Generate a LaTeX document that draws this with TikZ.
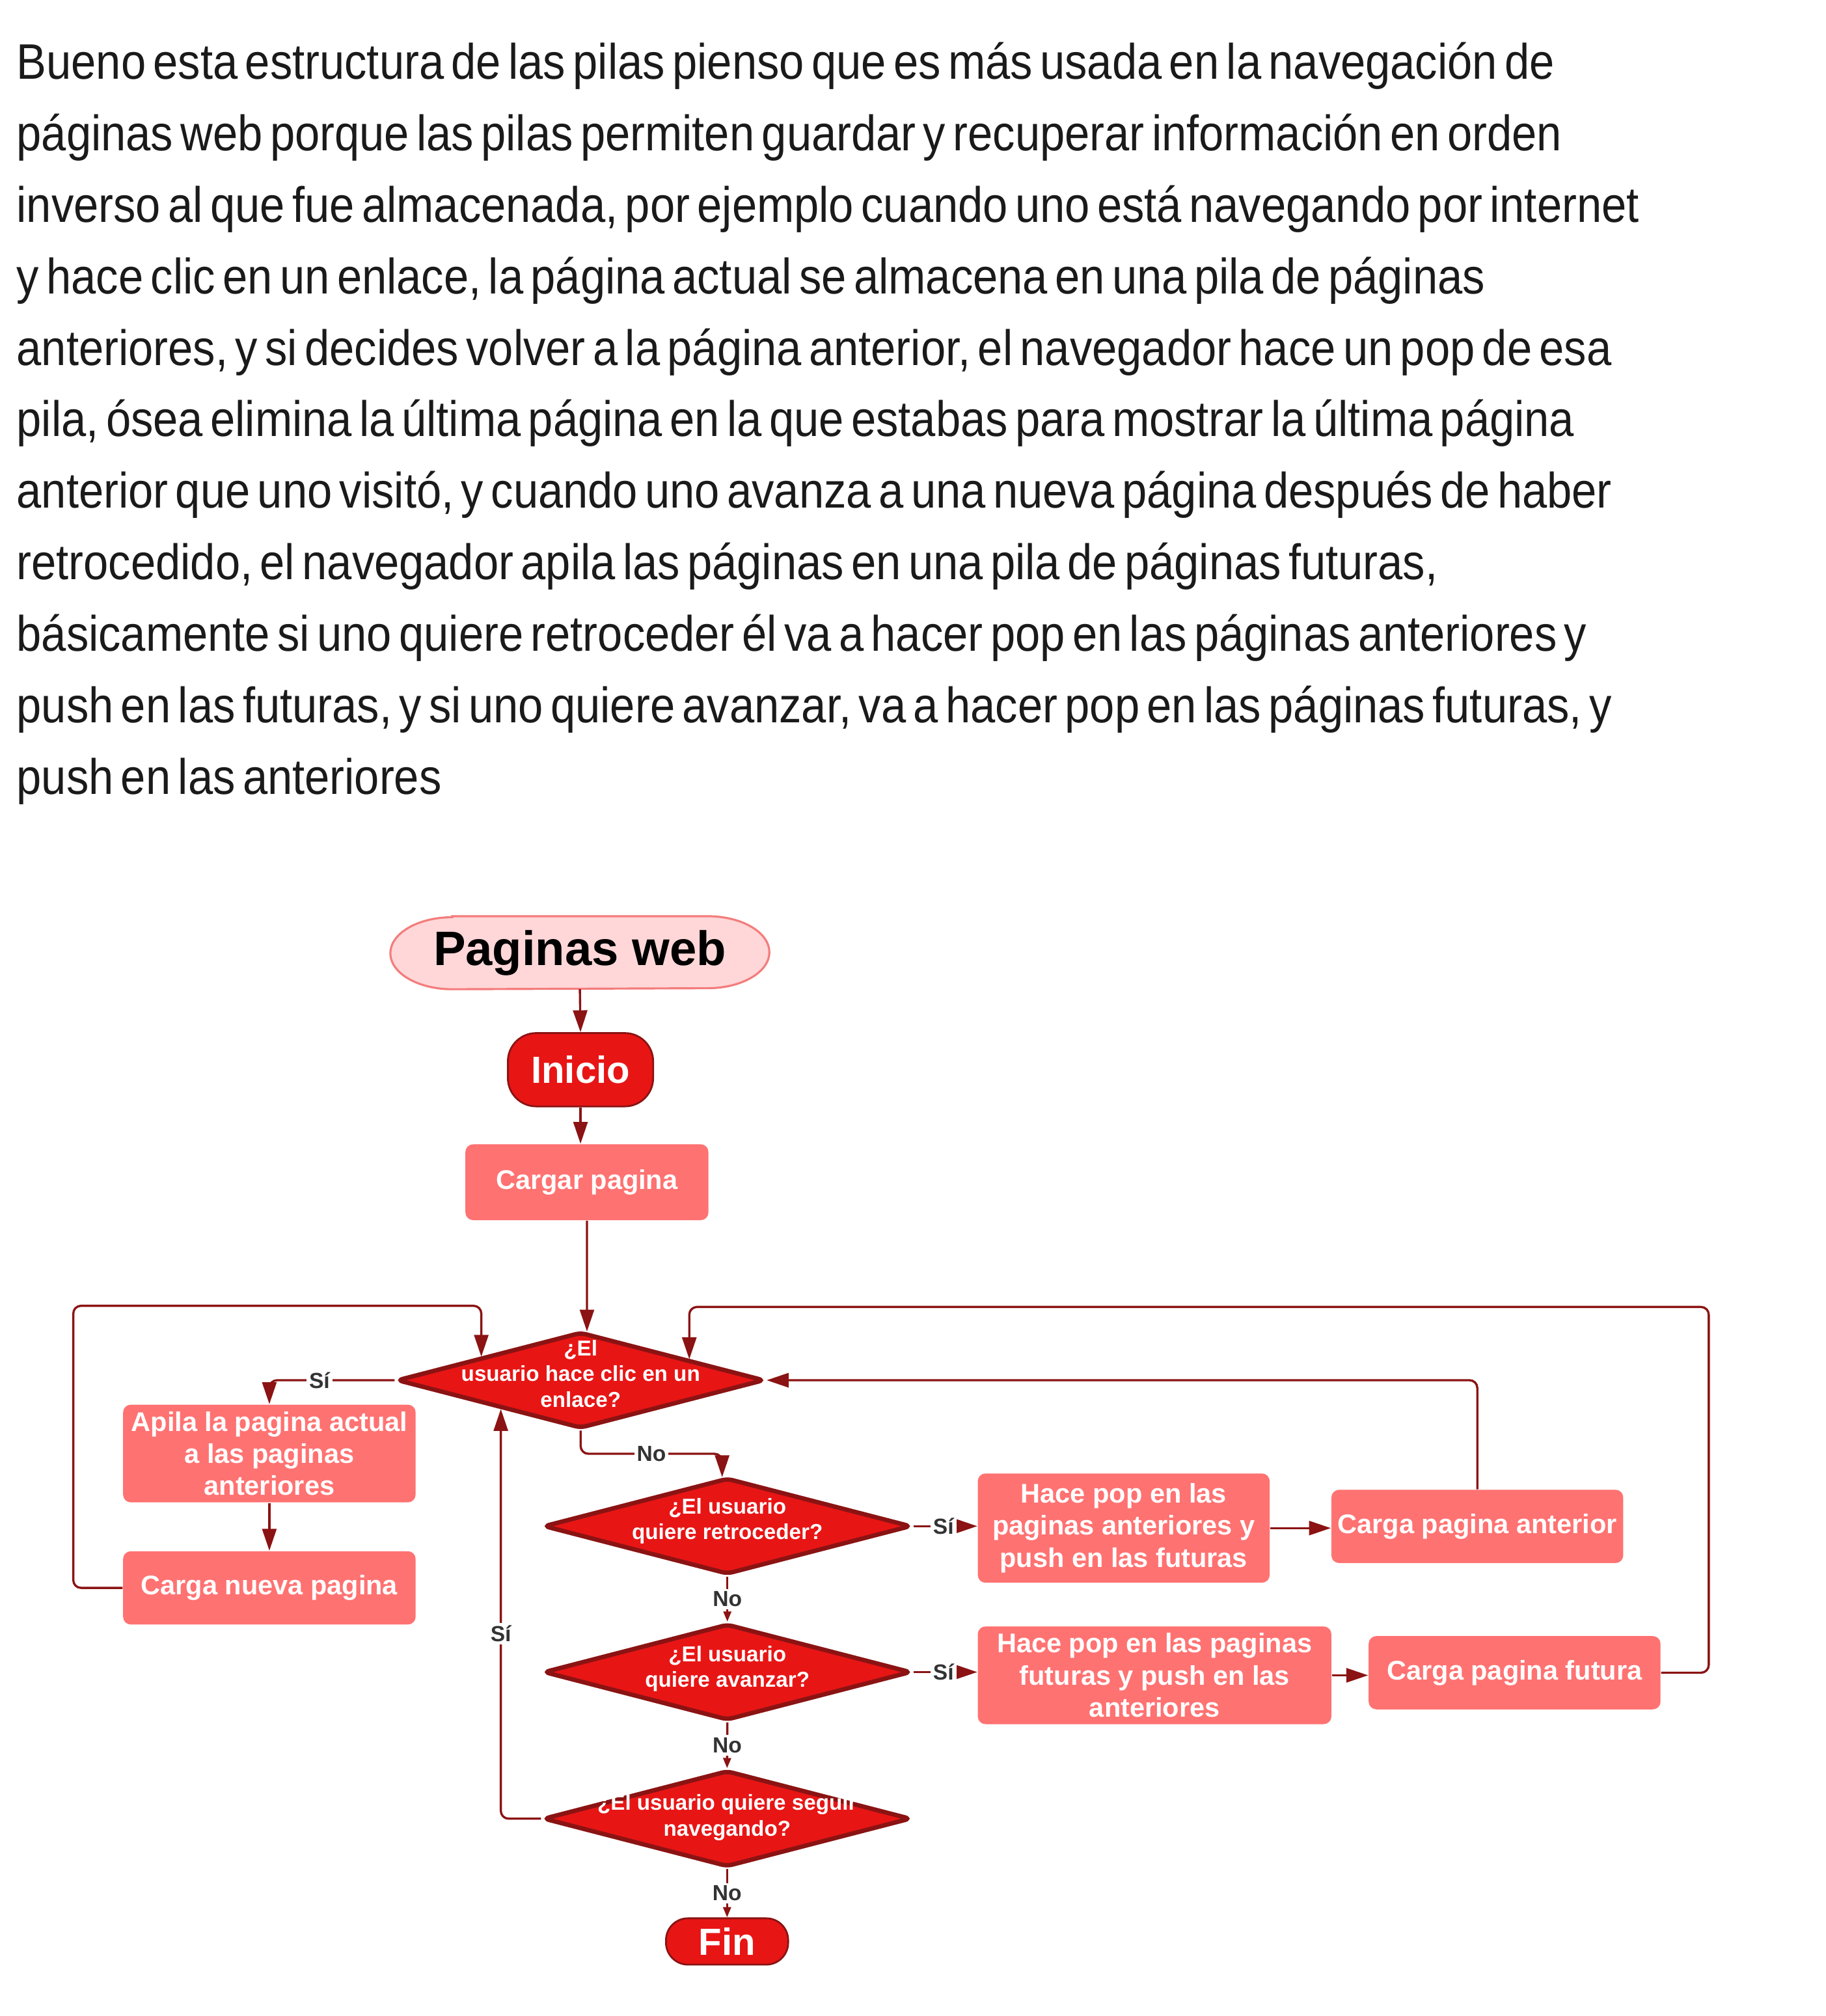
\documentclass[tikz,border=0pt]{standalone}
\usepackage{fontspec}
\setmainfont{Liberation Sans}
\newfontfamily\parafont[WordSpace=0.6]{Liberation Sans}
\usepackage{graphicx}
\usetikzlibrary{shapes.geometric,arrows.meta,calc,backgrounds}
\definecolor{edgec}{HTML}{8B1313}
\definecolor{dfill}{HTML}{E81515}
\definecolor{bfill}{HTML}{FF7272}
\definecolor{pfill}{HTML}{FFD7D8}
\definecolor{pline}{HTML}{F47C7C}
\definecolor{lblc}{HTML}{333333}
\definecolor{bodyc}{HTML}{1A1A1A}
\newsavebox\reflinebox
\newlength\reflen
\newcommand\bodysize{\parafont\fontsize{19.4pt}{24pt}\selectfont}
\newcommand\tline[1]{\scalebox{\hsc}[1]{\bodysize #1}}
\begin{document}
\sbox\reflinebox{\bodysize inverso al que fue almacenada, por ejemplo cuando uno está navegando por internet}%
\setlength\reflen{\wd\reflinebox}%
\pgfmathsetmacro\hsc{631/\reflen}%
\begin{tikzpicture}[x=0.5pt,y=-0.5pt,
  conn/.style={draw=edgec,line width=0.85pt,rounded corners=3pt,-{Triangle[length=8.5pt,width=5.5pt]}},
  sconn/.style={draw=edgec,line width=0.85pt,-{Triangle[length=4pt,width=3pt]}},
  rbox/.style={rectangle,fill=bfill,rounded corners=3pt,text=white,font=\bfseries\fontsize{10.5pt}{12.5pt}\selectfont,align=center,inner sep=0pt,minimum height=28.5pt},
  dia/.style={diamond,draw=edgec,fill=dfill,line width=1.7pt,rounded corners=2pt,inner sep=0pt,minimum width=143pt,minimum height=37.5pt},
  dtext/.style={text=white,font=\bfseries\fontsize{8.4pt}{10pt}\selectfont,align=center,inner sep=0pt},
  term/.style={rectangle,fill=dfill,draw=edgec,line width=0.7pt,text=white,font=\bfseries\fontsize{14.7pt}{16pt}\selectfont,inner sep=0pt},
  lab/.style={fill=white,text=lblc,font=\bfseries\fontsize{8.5pt}{10pt}\selectfont,inner sep=1pt,rounded corners=0pt},
  para/.style={anchor=base west,inner sep=0pt,text=bodyc}]
\useasboundingbox (0,0) rectangle (1420,1568);
% paragraph
\node[para] (t1) at (12.6,61.6) {\tline{Bueno esta estructura de las pilas pienso que es más usada en la navegación de}};
\node[para] (t2) at (12.6,117.2) {\tline{páginas web porque las pilas permiten guardar y recuperar información en orden}};
\node[para] (t3) at (12.6,172.8) {\tline{inverso al que fue almacenada, por ejemplo cuando uno está navegando por internet}};
\node[para] (t4) at (12.6,228.4) {\tline{y hace clic en un enlace, la página actual se almacena en una pila de páginas}};
\node[para] (t5) at (12.6,284.0) {\tline{anteriores, y si decides volver a la página anterior, el navegador hace un pop de esa}};
\node[para] (t6) at (12.6,339.6) {\tline{pila, ósea elimina la última página en la que estabas para mostrar la última página}};
\node[para] (t7) at (12.6,395.2) {\tline{anterior que uno visitó, y cuando uno avanza a una nueva página después de haber}};
\node[para] (t8) at (12.6,450.8) {\tline{retrocedido, el navegador apila las páginas en una pila de páginas futuras,}};
\node[para] (t9) at (12.6,506.4) {\tline{básicamente si uno quiere retroceder él va a hacer pop en las páginas anteriores y}};
\node[para] (t10) at (12.6,562.0) {\tline{push en las futuras, y si uno quiere avanzar, va a hacer pop en las páginas futuras, y}};
\node[para] (t11) at (12.6,617.6) {\tline{push en las anteriores}};
% title
\node[rectangle,inner sep=0pt,minimum width=147pt,minimum height=28pt,font=\bfseries\fontsize{18.8pt}{20pt}\selectfont,text=black] (pw) at (451,741) {Paginas web};
\begin{scope}[on background layer]
\fill[white] (0,0) rectangle (1420,1568);
\draw[fill=pfill,draw=pline,line width=0.8pt]
  ([xshift=24pt]pw.north west) -- ([xshift=-24pt]pw.north east)
  arc[start angle=90,end angle=-90,x radius=24pt,y radius=14pt]
  -- ([xshift=24pt]pw.south west)
  arc[start angle=270,end angle=90,x radius=24pt,y radius=14pt] -- cycle;
\end{scope}
% terminals and boxes
\node[term,rounded corners=11pt,minimum width=56.5pt,minimum height=28.5pt] (ini) at (451.5,832) {Inicio};
\node[rbox,minimum width=94.5pt,minimum height=29.5pt] (carg) at (456.5,919.5) {Cargar pagina};
\node[dia] (d1) at (451.6,1073.5) {};
\node[dtext] (d1t) at (451.6,1068.5) {¿El\\usuario hace clic en un\\enlace?};
\node[rbox,minimum width=113.75pt,minimum height=38pt] (apila) at (209.5,1130.5) {Apila la pagina actual\\a las paginas\\anteriores};
\node[rbox,minimum width=113.75pt] (nueva) at (209.5,1235) {Carga nueva pagina};
\node[dia] (d2) at (565.7,1187) {};
\node[dtext] (d2t) at (565.7,1183) {¿El usuario\\quiere retroceder?};
\node[dia] (d3) at (565.7,1300.5) {};
\node[dtext] (d3t) at (565.7,1298) {¿El usuario\\quiere avanzar?};
\node[dia] (d4) at (565.5,1414.5) {};
\node[dtext] (d4t) at (565.5,1413.5) {¿El usuario quiere seguir\\navegando?};
\node[term,rounded corners=8.5pt,minimum width=47.5pt,minimum height=18pt] (fin) at (565.5,1510) {Fin};
\node[rbox,minimum width=113.5pt,minimum height=42.5pt] (pop1) at (874,1188.5) {Hace pop en las\\paginas anteriores y\\push en las futuras};
\node[rbox,minimum width=113.5pt] (cant) at (1149,1187.2) {Carga pagina anterior};
\node[rbox,minimum width=137.5pt,minimum height=38pt] (pop2) at (898,1303) {Hace pop en las paginas\\futuras y push en las\\anteriores};
\node[rbox,minimum width=113.5pt] (cfut) at (1178,1301) {Carga pagina futura};
% connectors
\draw[conn] (pw.south) -- (ini.north);
\draw[conn] (ini.south) -- (ini.south |- carg.north);
\coordinate (d1a) at ($(d1.north)!0.034!(d1.east)$);
\draw[conn] (carg.south) -- (d1a);
\draw[conn] (d1.west) -| node[lab,pos=0.3]{Sí} (apila.north);
\draw[conn] (apila.south) -- (nueva.north);
\coordinate (lc) at (57,1015.6);
\coordinate (d1b) at ($(d1.west)!0.466!(d1.north)$);
\draw[conn] (nueva.west) -| (lc) -| (d1b);
\coordinate (d2a) at ($(d2.west)!0.972!(d2.north)$);
\draw[conn] (d1.south) -- ++(0,18) -| node[lab,pos=0.25]{No} (d2a);
\draw[sconn] (d2.south) -- node[lab]{No} (d3.north);
\draw[sconn] (d3.south) -- node[lab]{No} (d4.north);
\draw[sconn] (d4.south) -- node[lab]{No} (fin.north);
\draw[conn] (d2.east) -- node[lab,pos=0.47]{Sí} (d2.east -| pop1.west);
\draw[conn] (pop1.east) -- (pop1.east -| cant.west);
\draw[conn] (cant.north) |- (d1.east);
\draw[conn] (d3.east) -- node[lab,pos=0.47]{Sí} (d3.east -| pop2.west);
\draw[conn] (pop2.east) -- (pop2.east -| cfut.west);
\coordinate (rc) at (1329,1016.5);
\coordinate (d1c) at ($(d1.north)!0.584!(d1.east)$);
\draw[conn] (cfut.east) -| (rc) -| (d1c);
\coordinate (d1d) at ($(d1.west)!0.571!(d1.south)$);
\draw[conn] (d4.west) -| node[lab,pos=0.726]{Sí} (d1d);
\end{tikzpicture}
\end{document}
